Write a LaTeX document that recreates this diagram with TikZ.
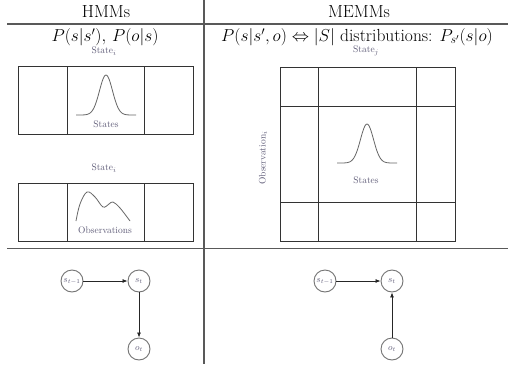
\documentclass[tikz,border=0pt]{standalone}
\usetikzlibrary{arrows.meta}
\definecolor{labelgray}{RGB}{95,92,120}
\begin{document}
\begin{tikzpicture}[x=1pt,y=-1pt,
  rule/.style={draw=black!65,line width=1.3pt},
  cell/.style={draw=black!80,line width=0.9pt},
  curve/.style={draw=black!60,line width=0.8pt},
  small/.style={text=labelgray,font=\fontsize{9.5}{11}\selectfont,inner sep=1pt},
  head/.style={font=\fontsize{17.5}{20}\selectfont,inner sep=0pt},
  var/.style={circle,draw=black!55,line width=0.9pt,minimum size=22pt,inner sep=0pt,font=\fontsize{9}{10}\selectfont,text=labelgray},
  arr/.style={-{Latex[length=5pt,width=4pt]},draw=black!85,line width=0.8pt}]
\useasboundingbox (0,0) rectangle (508,364);
\fill[white] (0,0) rectangle (508,364);

% table rules
\draw[rule] (204,0) -- (204,364);
\draw[rule] (7,24) -- (508,24);
\draw[rule] (7,248.5) -- (508,248.5);

% headings
\node[head] (hmm) at (106,12) {HMMs};
\node[head] (memm) at (359,12) {MEMMs};
\node[head] (fhmm) at (105,37) {$P(s|s'),\,P(o|s)$};
\node[head] (fmemm) at (357,37) {$P(s|s',o)\Leftrightarrow|S|$ distributions: $P_{s'}(s|o)$};

% HMM: transition table
\node[small] (lst) at (104,51) {State$_i$};
\draw[cell] (18,66) rectangle (193,134);
\draw[cell] (67,66) -- (67,134) (144,66) -- (144,134);
\draw[curve] plot[domain=-30:30,samples=61,smooth] ({106+\x},{115-40*exp(-(\x/6.5)^2/2)});
\node[small] (lstates) at (106,124) {States};

% HMM: emission table
\node[small] (lst2) at (104,168) {State$_i$};
\draw[cell] (18,183) rectangle (193,241);
\draw[cell] (67,183) -- (67,241) (144,183) -- (144,241);
\draw[curve] plot[smooth,tension=0.6] coordinates {(76,221) (80,204) (87,192) (95,197) (103,207) (109,204) (113,202) (120,208) (130,221)};
\node[small] (lobs) at (105,230) {Observations};

% MEMM: table of distributions
\node[small] (lsj) at (366,51) {State$_j$};
\node[small,rotate=90] (loi) at (263,158) {Observation$_i$};
\draw[cell] (280,67) rectangle (455,241);
\draw[cell] (318,67) -- (318,241) (416,67) -- (416,241);
\draw[cell] (280,106) -- (455,106) (280,202) -- (455,202);
\draw[curve] plot[domain=-30:30,samples=61,smooth] ({367+\x},{163-39*exp(-(\x/6.5)^2/2)});
\node[small] (mstates) at (366,180) {States};

% HMM graphical model
\node[var] (hs1) at (72,281) {$s_{t-1}$};
\node[var] (hs) at (139,281) {$s_t$};
\node[var] (ho) at (139,349) {$o_t$};
\draw[arr] (hs1) -- (hs);
\draw[arr] (hs) -- (ho);

% MEMM graphical model
\node[var] (ms1) at (325,281) {$s_{t-1}$};
\node[var] (ms) at (392,281) {$s_t$};
\node[var] (mo) at (392,349) {$o_t$};
\draw[arr] (ms1) -- (ms);
\draw[arr] (mo) -- (ms);
\end{tikzpicture}
\end{document}
